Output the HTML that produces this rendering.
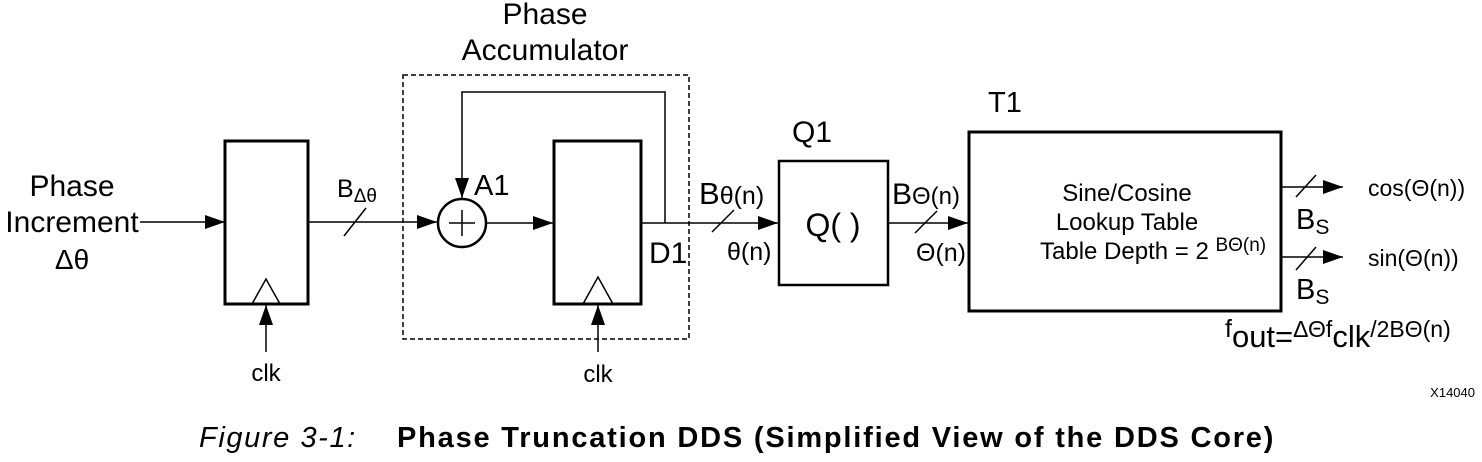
<!DOCTYPE html>
<html><head><meta charset="utf-8"><style>
html,body{margin:0;padding:0;background:#fff;}
svg{display:block;font-family:"Liberation Sans",Arial,sans-serif;}
</style></head><body>
<svg width="1482" height="462" viewBox="0 0 1482 462" xmlns="http://www.w3.org/2000/svg">
<defs>
<marker id="b" markerWidth="20" markerHeight="14" refX="20" refY="7" orient="auto" markerUnits="userSpaceOnUse" viewBox="0 0 20 14"><path d="M0,0 L20,7 L0,14z" fill="#000"/></marker>
</defs>
<g fill="none" stroke="#000" stroke-width="1.5">
<line x1="140" y1="222" x2="225" y2="222" marker-end="url(#b)"/>
<rect x="225" y="141" width="83" height="163" stroke-width="3"/>
<path d="M252,304 L266,279 L280,304"/>
<line x1="266" y1="352" x2="266" y2="305" marker-end="url(#b)"/>
<line x1="308" y1="222" x2="437" y2="222" marker-end="url(#b)"/>
<line x1="344" y1="236" x2="366" y2="208"/>
<rect x="403" y="75" width="286" height="264" stroke-dasharray="5,3"/>
<circle cx="462" cy="223" r="24" stroke-width="2.5"/>
<line x1="449" y1="223" x2="475" y2="223"/>
<line x1="462" y1="210" x2="462" y2="236"/>
<line x1="486" y1="223" x2="553" y2="223" marker-end="url(#b)"/>
<rect x="554" y="141" width="87" height="163" stroke-width="3"/>
<path d="M583,304 L598,277 L613,304"/>
<line x1="598" y1="352" x2="598" y2="305" marker-end="url(#b)"/>
<polyline points="665,223 665,92 462,92 462,198" marker-end="url(#b)"/>
<line x1="641" y1="223" x2="778" y2="223" marker-end="url(#b)"/>
<line x1="712" y1="232" x2="734" y2="210"/>
<rect x="779" y="161" width="109" height="124" stroke-width="2.5"/>
<line x1="888" y1="223" x2="968" y2="223" marker-end="url(#b)"/>
<line x1="915" y1="233" x2="937" y2="211"/>
<rect x="969" y="132" width="312" height="179" stroke-width="3"/>
<line x1="1282" y1="187" x2="1343" y2="187" marker-end="url(#b)"/>
<line x1="1296" y1="197" x2="1316" y2="175"/>
<line x1="1282" y1="257" x2="1343" y2="257" marker-end="url(#b)"/>
<line x1="1296" y1="270" x2="1316" y2="247"/>
</g>
<g fill="#000">
<text x="72" y="196" text-anchor="middle" font-size="30">Phase</text>
<text x="72" y="232" text-anchor="middle" font-size="30">Increment</text>
<text x="72" y="269" text-anchor="middle" font-size="28">Δθ</text>
<text x="337" y="197" font-size="25">B<tspan font-size="19" dy="5">Δθ</tspan></text>
<text x="545" y="24" text-anchor="middle" font-size="30">Phase</text>
<text x="545" y="60" text-anchor="middle" font-size="30">Accumulator</text>
<text x="474" y="195" font-size="29">A1</text>
<text x="649" y="263" font-size="30">D1</text>
<text x="266" y="381" text-anchor="middle" font-size="24">clk</text>
<text x="598" y="382" text-anchor="middle" font-size="24">clk</text>
<text x="699" y="204" font-size="31">B<tspan font-size="25">θ(n)</tspan></text>
<text x="727" y="260" font-size="25">θ(n)</text>
<text x="792" y="142" font-size="30">Q1</text>
<text x="833" y="236" text-anchor="middle" font-size="32">Q( )</text>
<text x="892" y="204" font-size="30">B<tspan font-size="24">Θ(n)</tspan></text>
<text x="916" y="261" font-size="25">Θ(n)</text>
<text x="988" y="112" font-size="29">T1</text>
<text x="1127" y="201" text-anchor="middle" font-size="24">Sine/Cosine</text>
<text x="1127" y="230" text-anchor="middle" font-size="24">Lookup Table</text>
<text x="1040" y="259" font-size="24">Table Depth = 2 <tspan font-size="19" dy="-8">BΘ(n)</tspan></text>
<text x="1368" y="196" font-size="23">cos(Θ(n))</text>
<text x="1368" y="266" font-size="23">sin(Θ(n))</text>
<text x="1296" y="229" font-size="29">B<tspan font-size="21" dy="5">S</tspan></text>
<text x="1296" y="299" font-size="29">B<tspan font-size="21" dy="5">S</tspan></text>
<text x="1225" y="337" font-size="25">f<tspan dy="10" font-size="31">out=</tspan><tspan dy="-10" font-size="23">ΔΘf</tspan><tspan dy="10" font-size="31">clk</tspan><tspan dy="-10" font-size="23">/2BΘ(n)</tspan></text>
<text x="1475" y="397" text-anchor="end" font-size="13">X14040</text>
<text x="199" y="447" font-size="29" font-style="italic" letter-spacing="1.6">Figure 3-1:</text>
<text x="397" y="447" font-size="29" font-weight="bold" letter-spacing="1.8">Phase Truncation DDS (Simplified View of the DDS Core)</text>
</g>
</svg>
</body></html>
